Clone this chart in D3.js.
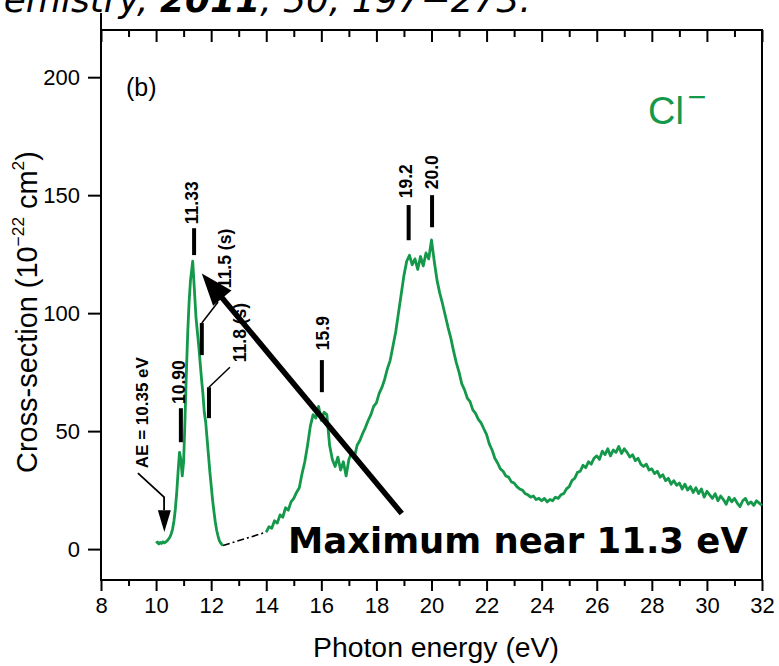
<!DOCTYPE html>
<html>
<head>
<meta charset="utf-8">
<script src="https://cdn.jsdelivr.net/npm/d3@7"></script>
<style>
  html, body { margin: 0; padding: 0; background: #fff; }
  svg { display: block; }
</style>
</head>
<body>
<svg id="chart" width="779" height="666"></svg>
<script>
// Cl- photoion yield: [photon energy (eV), cross-section (1e-22 cm^2)]
const onsetBand = [
  [10.00, 2.5], [10.05, 3.0], [10.10, 2.2], [10.15, 2.8], [10.20, 2.4], [10.25, 3.1],
  [10.30, 2.6], [10.35, 3.0], [10.40, 3.5], [10.45, 4.2], [10.50, 5.0], [10.55, 6.5],
  [10.60, 8.5], [10.65, 12], [10.70, 17], [10.75, 24], [10.80, 33], [10.85, 41],
  [10.90, 38], [10.95, 31], [11.00, 37], [11.05, 55], [11.10, 75], [11.15, 92],
  [11.20, 105], [11.25, 114], [11.30, 119], [11.33, 122], [11.35, 118], [11.40, 108],
  [11.45, 98], [11.50, 92], [11.55, 86], [11.60, 79], [11.65, 72], [11.70, 66],
  [11.75, 58], [11.80, 54], [11.85, 47], [11.90, 40], [11.95, 33], [12.00, 27],
  [12.05, 21], [12.10, 16], [12.15, 11.5], [12.20, 8], [12.25, 5.5], [12.30, 3.5],
  [12.35, 2.5], [12.40, 1.8], [12.43, 1.5]
];

const upperBand = [
  [14.0, 7.2], [14.1, 9.5], [14.2, 8.8], [14.3, 12.0], [14.4, 11.0], [14.5, 14.5],
  [14.6, 13.5], [14.7, 17.5], [14.8, 16.5], [14.9, 20.0], [15.0, 21.5], [15.1, 24.0],
  [15.2, 26.0], [15.3, 32.0], [15.4, 37.0], [15.5, 44.0], [15.6, 52.0], [15.7, 57.0],
  [15.8, 55.5], [15.9, 60.5], [16.0, 54.5], [16.1, 58.0], [16.2, 57.0], [16.3, 44.0],
  [16.4, 38.0], [16.5, 35.0], [16.6, 39.0], [16.7, 33.5], [16.8, 37.0], [16.9, 31.0],
  [17.0, 38.0], [17.1, 41.0], [17.2, 39.0], [17.3, 44.0], [17.4, 46.0], [17.5, 49.0],
  [17.6, 51.5], [17.7, 54.5], [17.8, 57.0], [17.9, 60.5], [18.0, 62.0], [18.1, 66.0],
  [18.2, 68.5], [18.3, 72.0], [18.4, 76.5], [18.5, 80.0], [18.6, 86.0], [18.7, 92.0],
  [18.8, 100.0], [18.9, 108.0], [19.0, 116.0], [19.1, 122.0], [19.2, 124.5], [19.3, 120.5],
  [19.4, 123.0], [19.5, 118.5], [19.6, 124.0], [19.7, 120.0], [19.8, 125.5], [19.9, 123.0],
  [20.0, 131.0], [20.1, 122.0], [20.2, 114.0], [20.3, 108.5], [20.4, 104.0], [20.5, 99.0],
  [20.6, 94.0], [20.7, 89.5], [20.8, 84.0], [20.9, 79.0], [21.0, 75.0], [21.1, 70.0],
  [21.2, 67.5], [21.3, 64.0], [21.4, 62.5], [21.5, 59.0], [21.6, 57.5], [21.7, 55.0],
  [21.8, 53.5], [21.9, 51.0], [22.0, 48.5], [22.1, 44.5], [22.2, 42.0], [22.3, 38.5],
  [22.4, 36.5], [22.5, 34.0], [22.6, 33.0], [22.7, 31.0], [22.8, 30.5], [22.9, 28.5],
  [23.0, 28.0], [23.1, 26.5], [23.2, 25.5], [23.3, 25.0], [23.4, 23.5], [23.5, 23.0],
  [23.6, 22.0], [23.7, 22.5], [23.8, 21.0], [23.9, 21.5], [24.0, 20.5], [24.1, 21.5],
  [24.2, 20.0], [24.3, 21.0], [24.4, 20.5], [24.5, 22.0], [24.6, 21.5], [24.7, 23.0],
  [24.8, 23.5], [24.9, 25.5], [25.0, 26.5], [25.1, 29.0], [25.2, 30.0], [25.3, 32.5],
  [25.4, 33.0], [25.5, 35.5], [25.6, 34.5], [25.7, 37.0], [25.8, 36.0], [25.9, 38.5],
  [26.0, 39.5], [26.1, 38.0], [26.2, 41.5], [26.3, 40.0], [26.4, 42.5], [26.5, 39.5],
  [26.6, 42.0], [26.7, 41.0], [26.8, 43.5], [26.9, 40.5], [27.0, 42.5], [27.1, 41.0],
  [27.2, 39.0], [27.3, 40.0], [27.4, 37.5], [27.5, 38.5], [27.6, 36.0], [27.7, 35.0],
  [27.8, 36.0], [27.9, 33.5], [28.0, 34.0], [28.1, 32.0], [28.2, 33.0], [28.3, 30.5],
  [28.4, 31.5], [28.5, 29.0], [28.6, 30.0], [28.7, 27.5], [28.8, 29.0], [28.9, 27.0],
  [29.0, 28.0], [29.1, 25.5], [29.2, 27.5], [29.3, 25.0], [29.4, 26.5], [29.5, 24.0],
  [29.6, 26.0], [29.7, 23.5], [29.8, 25.5], [29.9, 22.0], [30.0, 24.5], [30.1, 23.0],
  [30.2, 21.5], [30.3, 23.5], [30.4, 20.5], [30.5, 22.5], [30.6, 21.0], [30.7, 19.0],
  [30.8, 22.0], [30.9, 20.0], [31.0, 21.5], [31.1, 19.5], [31.2, 18.0], [31.3, 20.5],
  [31.4, 21.5], [31.5, 19.0], [31.6, 20.0], [31.7, 18.5], [31.8, 20.5], [31.9, 19.5],
  [32.0, 18.5]
];

const xMajorTicks = [8, 10, 12, 14, 16, 18, 20, 22, 24, 26, 28, 30, 32];
const xMinorTicks = [9, 11, 13, 15, 17, 19, 21, 23, 25, 27, 29, 31];
const yTicks = [0, 50, 100, 150, 200];

// Peak assignments: bar from v0 to v1 at energy e, label anchored at (le, lv)
const peakMarks = [
  { label: "10.90",    e: 10.90, v0: 45.3,  v1: 59.7,  le: 10.82, lv: 61.5 },
  { label: "11.33",    e: 11.38, v0: 124.6, v1: 136.0, le: 11.30, lv: 137.7 },
  { label: "11.5 (s)", e: 11.66, v0: 82.2,  v1: 95.8,  ke: 12.25, kv: 104.7, le: 12.50, lv: 110.6 },
  { label: "11.8 (s)", e: 11.92, v0: 55.5,  v1: 68.6,  ke: 12.68, kv: 77.1,  le: 13.05, lv: 79.2 },
  { label: "15.9",     e: 16.02, v0: 66.5,  v1: 80.1,  le: 16.06, lv: 84.3 },
  { label: "19.2",     e: 19.17, v0: 130.9, v1: 145.8, le: 19.07, lv: 148.7 },
  { label: "20.0",     e: 20.02, v0: 136.4, v1: 150.0, le: 20.02, lv: 152.5 }
];

// Appearance energy marker
const onsetNote = { label: "AE = 10.35 eV", le: 9.49, lv: 34.3,
  path: [[9.34, 32.2], [10.29, 22.0], [10.29, 16.5]], tip: [10.30, 7.2] };

// Pointer towards the main maximum
const pointer = { from: [18.92, 15.1], to: [11.66, 116.8], text: "Maximum near 11.3 eV" };

const green = "#14984a";
const sans = "'Liberation Sans', Arial, sans-serif";

const svg = d3.select("#chart");
const plot = { left: 101, right: 762, top: 30, bottom: 580 };

const x = d3.scaleLinear().domain([8, 32]).range([plot.left, plot.right]);
const y = d3.scaleLinear().domain([-13.1, 220]).range([plot.bottom, plot.top]);

function fitWidth(sel, w) {
  const len = sel.node().getComputedTextLength();
  const fs = parseFloat(sel.attr("font-size"));
  sel.attr("font-size", fs * w / len);
}

// Citation line along the top edge
const cite = svg.append("text")
  .attr("y", 12)
  .attr("font-family", "'DejaVu Sans', Verdana, sans-serif")
  .attr("font-style", "italic")
  .attr("font-size", 36)
  .attr("fill", "#000");
const citeHead = cite.append("tspan").text("emistry, ");
cite.append("tspan").attr("font-weight", "bold").text("2011");
cite.append("tspan").text(", 50, 197\u2212273.");
cite.attr("x", 160 - citeHead.node().getComputedTextLength());

// Axes
const axisFont = g => g.selectAll("text")
  .attr("font-family", sans).attr("font-size", 22).attr("fill", "#000");

svg.append("g")
  .attr("transform", `translate(0,${plot.bottom})`)
  .call(d3.axisBottom(x).tickValues(xMajorTicks).tickSize(11).tickPadding(6).tickFormat(d3.format("d")))
  .call(g => g.select(".domain").remove())
  .call(g => g.selectAll("line").attr("stroke-width", 2))
  .call(axisFont);

svg.append("g")
  .attr("transform", `translate(0,${plot.bottom})`)
  .call(d3.axisBottom(x).tickValues(xMinorTicks).tickSize(6).tickFormat(""))
  .call(g => g.select(".domain").remove())
  .call(g => g.selectAll("line").attr("stroke-width", 2));

svg.append("g")
  .attr("transform", `translate(0,${plot.top})`)
  .call(d3.axisBottom(x).tickValues(xMajorTicks).tickSize(12).tickFormat(""))
  .call(g => g.select(".domain").remove())
  .call(g => g.selectAll("line").attr("stroke-width", 2));

svg.append("g")
  .attr("transform", `translate(0,${plot.top})`)
  .call(d3.axisBottom(x).tickValues(xMinorTicks).tickSize(7).tickFormat(""))
  .call(g => g.select(".domain").remove())
  .call(g => g.selectAll("line").attr("stroke-width", 2));

svg.append("g")
  .attr("transform", `translate(${plot.left},0)`)
  .call(d3.axisLeft(y).tickValues(yTicks).tickSize(13).tickPadding(8))
  .call(g => g.select(".domain").remove())
  .call(g => g.selectAll("line").attr("stroke-width", 2))
  .call(axisFont);

// Frame
svg.append("rect")
  .attr("x", plot.left).attr("y", plot.top)
  .attr("width", plot.right - plot.left).attr("height", plot.bottom - plot.top)
  .attr("fill", "none").attr("stroke", "#000").attr("stroke-width", 2);
svg.append("line")
  .attr("x1", plot.left).attr("x2", plot.left).attr("y1", 13).attr("y2", plot.top)
  .attr("stroke", "#000").attr("stroke-width", 2);

// Axis titles
const xTitle = svg.append("text")
  .attr("x", (312 + 560) / 2).attr("y", 657)
  .attr("text-anchor", "middle")
  .attr("font-family", sans).attr("font-size", 26)
  .text("Photon energy (eV)");
fitWidth(xTitle, 246);

const yTitle = svg.append("text")
  .attr("transform", "translate(37,312) rotate(-90)")
  .attr("text-anchor", "middle")
  .attr("font-family", sans).attr("font-size", 26);
yTitle.append("tspan").text("Cross-section (10");
yTitle.append("tspan").attr("font-size", "0.6em").attr("dy", "-0.75em").text("\u221222");
yTitle.append("tspan").attr("dy", "0.45em").text(" cm");
yTitle.append("tspan").attr("font-size", "0.6em").attr("dy", "-0.75em").text("2");
yTitle.append("tspan").attr("dy", "0.45em").text(")");
fitWidth(yTitle, 322);

// Panel tag and species
svg.append("text")
  .attr("x", 126).attr("y", 96)
  .attr("font-family", sans).attr("font-size", 25)
  .text("(b)");

const species = svg.append("text")
  .attr("x", 648).attr("y", 124)
  .attr("font-family", sans).attr("font-size", 38).attr("fill", green);
species.append("tspan").text("Cl");
species.append("tspan").attr("font-size", "0.85em").attr("dx", "0.12em").attr("dy", "-0.5em").text("\u2212");

// Data curve
const line = d3.line().x(d => x(d[0])).y(d => y(d[1]));

svg.append("path")
  .datum([onsetBand[onsetBand.length - 1], upperBand[0]])
  .attr("d", line)
  .attr("fill", "none").attr("stroke", "#000").attr("stroke-width", 1.6)
  .attr("stroke-dasharray", "7,3,2,3");

[onsetBand, upperBand].forEach(seg => {
  svg.append("path")
    .datum(seg)
    .attr("d", line)
    .attr("fill", "none")
    .attr("stroke", green)
    .attr("stroke-width", 2.8)
    .attr("stroke-linejoin", "round");
});

// Peak assignment bars, leaders and labels
const marks = svg.append("g");
peakMarks.forEach(m => {
  marks.append("line")
    .attr("x1", x(m.e)).attr("x2", x(m.e))
    .attr("y1", y(m.v0)).attr("y2", y(m.v1))
    .attr("stroke", "#000").attr("stroke-width", 4);
  if (m.ke !== undefined) {
    marks.append("line")
      .attr("x1", x(m.e)).attr("y1", y(m.v1))
      .attr("x2", x(m.ke)).attr("y2", y(m.kv))
      .attr("stroke", "#000").attr("stroke-width", 1.5);
  }
  marks.append("text")
    .attr("transform", `translate(${x(m.le)},${y(m.lv)}) rotate(-90)`)
    .attr("dy", "0.35em")
    .attr("font-family", sans).attr("font-size", 17.5)
    .attr("font-weight", "bold")
    .text(m.label);
});

// Appearance energy note
marks.append("text")
  .attr("transform", `translate(${x(onsetNote.le)},${y(onsetNote.lv)}) rotate(-90)`)
  .attr("dy", "0.35em")
  .attr("font-family", sans).attr("font-size", 17)
  .attr("font-weight", "bold")
  .text(onsetNote.label);
marks.append("path")
  .datum(onsetNote.path)
  .attr("d", line)
  .attr("fill", "none").attr("stroke", "#000").attr("stroke-width", 1.8);
{
  const tx = x(onsetNote.tip[0]), ty = y(onsetNote.tip[1]);
  const by = y(onsetNote.path[onsetNote.path.length - 1][1]);
  marks.append("path")
    .attr("d", `M${tx},${ty} L${tx - 6.5},${by} L${tx + 6.5},${by} Z`)
    .attr("fill", "#000");
}

// Bold pointer and caption
{
  const sx = x(pointer.from[0]), sy = y(pointer.from[1]);
  const tx = x(pointer.to[0]), ty = y(pointer.to[1]);
  const dx = tx - sx, dy = ty - sy, len = Math.hypot(dx, dy);
  const ux = dx / len, uy = dy / len;
  const headLen = 32, half = 12;
  const bx = tx - ux * headLen, by = ty - uy * headLen;
  svg.append("line")
    .attr("x1", sx).attr("y1", sy)
    .attr("x2", tx - ux * (headLen - 4)).attr("y2", ty - uy * (headLen - 4))
    .attr("stroke", "#000").attr("stroke-width", 5.5);
  svg.append("path")
    .attr("d", `M${tx},${ty} L${bx - uy * half},${by + ux * half} L${bx + uy * half},${by - ux * half} Z`)
    .attr("fill", "#000");
}

const caption = svg.append("text")
  .attr("x", 288).attr("y", 553)
  .attr("font-family", "'DejaVu Sans', Verdana, sans-serif")
  .attr("font-weight", "bold").attr("font-size", 32)
  .text(pointer.text);
fitWidth(caption, 460);
</script>
</body>
</html>
